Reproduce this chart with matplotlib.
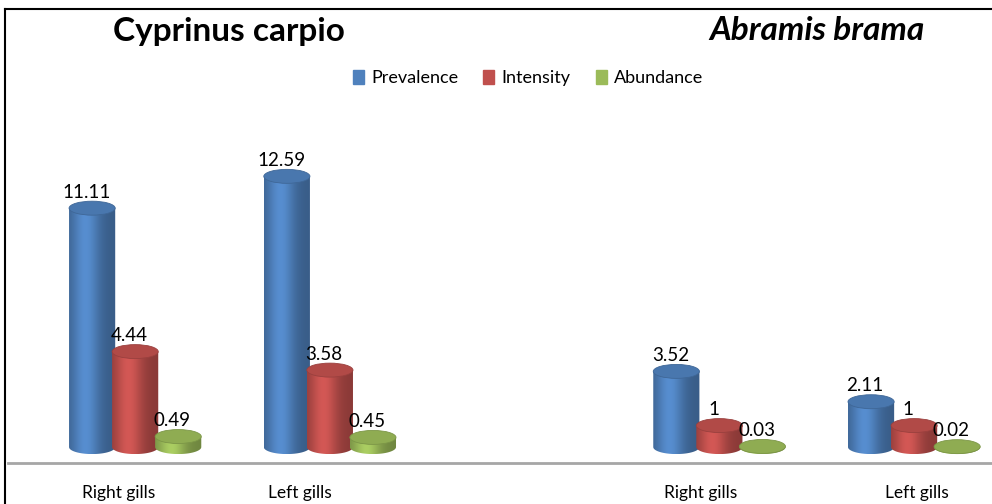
import numpy as np
import matplotlib
matplotlib.use("Agg")
import matplotlib.pyplot as plt
from matplotlib.patches import Ellipse, Polygon
from matplotlib.lines import Line2D
from matplotlib.colors import to_rgb

plt.rcParams['font.family'] = ['Lato', 'DejaVu Sans']

# data
categories = ['Right gills', 'Left gills', '', 'Right gills', 'Left gills']
prevalence = [11.11, 12.59, None, 3.52, 2.11]
intensity = [4.44, 3.58, None, 1, 1]
abundance = [0.49, 0.45, None, 0.03, 0.02]
series_names = ['Prevalence', 'Intensity', 'Abundance']
series_colors = ['#4F81BD', '#C0504D', '#9BBB59']

fig = plt.figure(figsize=(9.92, 5.04), dpi=100)
W, H = 992, 504
ax = fig.add_axes([8 / W, (H - 463) / H, 1 - 8 / W, (463 - 100) / H])

bar_w = 0.237
step = 0.221
eh = 0.65  # ellipse height (data units) for the cylinder caps


def shade(c, f):
    r = np.clip(np.array(to_rgb(c)) * f, 0, 1)
    return tuple(r)


def cylinder(x, h, color):
    x0, x1 = x - bar_w / 2, x + bar_w / 2
    t = np.linspace(np.pi, 2 * np.pi, 40)
    bx = x + bar_w / 2 * np.cos(t)
    by = eh / 2 * np.sin(t)
    verts = list(zip(bx, by)) + [(x1, h), (x0, h)]
    poly = Polygon(verts, closed=True, facecolor='none', edgecolor='none')
    ax.add_patch(poly)
    # horizontal gradient for the body
    u = np.linspace(0, 1, 60)
    fac = 0.72 + 0.38 * np.exp(-((u - 0.35) / 0.3) ** 2)
    img = np.array([[shade(color, f) for f in fac]])
    im = ax.imshow(img, extent=[x0, x1, -eh / 2, h], aspect='auto',
                   interpolation='bicubic', zorder=2)
    im.set_clip_path(poly)
    top = Ellipse((x, h), bar_w, eh, facecolor=shade(color, 0.92),
                  edgecolor=shade(color, 0.8), lw=0.6, zorder=3)
    ax.add_patch(top)


for i, cat in enumerate(categories):
    vals = [prevalence[i], intensity[i], abundance[i]]
    for j, v in enumerate(vals):
        if v is None:
            continue
        x = i + (j - 1) * step
        cylinder(x, v, series_colors[j])
        ax.text(x - 0.03, v + 0.35, f'{v:g}', ha='center', va='bottom',
                fontsize=13.5, zorder=5)

# category labels sit a little left of the bar groups (3D perspective)
label_idx = [0, 1, 3, 4]
label_shift = [-0.087, -0.154, -0.098, 0.015]
ax.set_xlim(-0.653, 4.40)
ax.set_ylim(-0.74, 16.14)
ax.set_xticks([k + s for k, s in zip(label_idx, label_shift)])
ax.set_xticklabels([categories[k] for k in label_idx], fontsize=12.5)
ax.tick_params(axis='x', length=0, pad=16)
ax.set_yticks([])
for s in ['top', 'right', 'left']:
    ax.spines[s].set_visible(False)
ax.spines['bottom'].set_color('#A6A6A6')
ax.spines['bottom'].set_linewidth(2)

# titles
fig.text(229 / W, 1 - 31 / H, 'Cyprinus carpio', ha='center', va='center',
         fontsize=24, fontweight='bold')
fig.text(817 / W, 1 - 31 / H, 'Abramis brama', ha='center', va='center',
         fontsize=24, fontweight='bold', style='italic')

# legend
handles = [plt.Rectangle((0, 0), 1, 1, color=c) for c in series_colors]
fig.legend(handles, series_names, loc='center', bbox_to_anchor=(528 / W, 1 - 78 / H),
           ncol=3, frameon=False, fontsize=13, handlelength=0.6, handleheight=0.8,
           handletextpad=0.4, columnspacing=1.4)

# chart frame (left and top edges)
fig.add_artist(Line2D([5 / W, 5 / W], [0, 1 - 9 / H], color='black', lw=1.5))
fig.add_artist(Line2D([5 / W, 1], [1 - 9 / H, 1 - 9 / H], color='black', lw=1.5))

fig.savefig('out.png', dpi=100)
